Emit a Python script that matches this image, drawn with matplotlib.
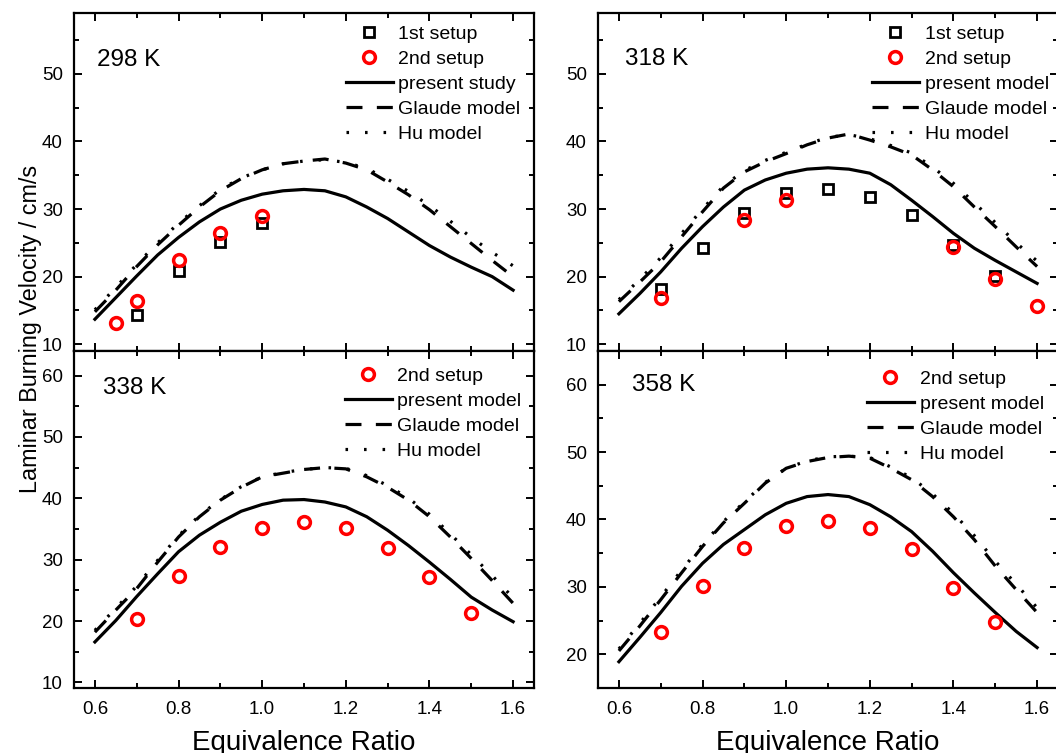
import numpy as np
import matplotlib.pyplot as plt
from matplotlib.ticker import MultipleLocator
from matplotlib.lines import Line2D

plt.rcParams['font.family'] = ['Liberation Sans', 'DejaVu Sans']

# equivalence ratio grid of the model curves
phi_model = np.round(np.arange(0.60, 1.601, 0.05), 2)

# ---- 298 K ----
s1_298_phi = [0.7, 0.8, 0.9, 1.0]
s1_298 = [14.3, 20.9, 25.1, 28.0]
s2_298_phi = [0.65, 0.7, 0.8, 0.9, 1.0]
s2_298 = [13.1, 16.4, 22.4, 26.4, 29.0]
present_298 = [13.7, 16.9, 20.1, 23.2, 25.8, 28.1, 30.0, 31.3, 32.2, 32.7, 32.9,
               32.7, 31.8, 30.3, 28.6, 26.6, 24.6, 22.9, 21.4, 20.0, 18.0]
glaude_298 = [14.8, 18.0, 21.5, 24.7, 27.6, 30.3, 32.7, 34.5, 35.8, 36.7, 37.1,
              37.4, 36.8, 35.8, 34.0, 32.1, 29.9, 27.4, 24.9, 22.4, 20.0]
hu_298 = [15.1, 18.4, 21.8, 25.0, 27.9, 30.5, 32.9, 34.6, 35.8, 36.7, 37.1,
          37.3, 36.9, 36.0, 34.4, 32.6, 30.5, 28.2, 25.8, 23.6, 21.6]

# ---- 318 K ----
s1_318_phi = [0.7, 0.8, 0.9, 1.0, 1.1, 1.2, 1.3, 1.4, 1.5]
s1_318 = [18.1, 24.3, 29.4, 32.3, 32.9, 31.8, 29.1, 24.7, 20.1]
s2_318_phi = [0.7, 0.9, 1.0, 1.4, 1.5, 1.6]
s2_318 = [16.8, 28.4, 31.3, 24.4, 19.6, 15.6]
present_318 = [14.5, 17.5, 20.7, 24.2, 27.4, 30.3, 32.8, 34.3, 35.3, 35.9, 36.1,
               35.9, 35.3, 33.6, 31.3, 28.9, 26.4, 24.2, 22.4, 20.7, 19.0]
glaude_318 = [16.3, 19.2, 22.2, 25.9, 29.6, 33.1, 35.5, 37.0, 38.2, 39.5, 40.5,
              41.1, 40.2, 39.2, 38.0, 35.8, 33.3, 30.3, 27.4, 24.4, 21.5]
hu_318 = [16.6, 19.6, 22.8, 26.4, 30.0, 33.4, 35.7, 37.2, 38.4, 39.6, 40.6,
          41.0, 40.4, 39.4, 38.3, 36.2, 33.8, 30.9, 28.0, 25.0, 22.3]

# ---- 338 K ----
s2_338_phi = [0.7, 0.8, 0.9, 1.0, 1.1, 1.2, 1.3, 1.4, 1.5]
s2_338 = [20.3, 27.3, 32.1, 35.1, 36.1, 35.1, 31.9, 27.2, 21.3]
present_338 = [16.6, 20.1, 24.0, 27.7, 31.3, 34.0, 36.1, 37.9, 39.0, 39.7, 39.8,
               39.4, 38.6, 37.0, 34.8, 32.3, 29.6, 26.8, 23.9, 21.8, 19.9]
glaude_338 = [18.2, 21.8, 25.3, 29.6, 33.7, 37.0, 39.7, 41.8, 43.5, 44.1, 44.7,
              45.0, 44.8, 43.5, 41.8, 39.7, 37.0, 33.7, 30.2, 26.6, 22.9]
hu_338 = [18.5, 22.1, 25.7, 29.9, 33.9, 37.2, 39.8, 41.9, 43.5, 44.2, 44.7,
          45.0, 44.9, 43.7, 42.1, 40.0, 37.4, 34.2, 30.8, 27.4, 23.8]

# ---- 358 K ----
s2_358_phi = [0.7, 0.8, 0.9, 1.0, 1.1, 1.2, 1.3, 1.4, 1.5]
s2_358 = [23.3, 30.2, 35.7, 39.1, 39.8, 38.7, 35.6, 29.8, 24.8]
present_358 = [18.9, 22.5, 26.2, 30.1, 33.5, 36.3, 38.5, 40.7, 42.4, 43.4, 43.7,
               43.4, 42.2, 40.4, 38.2, 35.3, 32.1, 29.1, 26.2, 23.4, 21.0]
glaude_358 = [20.5, 24.2, 28.1, 32.1, 36.0, 39.5, 42.4, 45.4, 47.6, 48.6, 49.2,
              49.4, 49.1, 47.6, 45.9, 43.4, 40.4, 37.0, 33.1, 29.6, 26.2]
hu_358 = [20.8, 24.6, 28.5, 32.5, 36.3, 39.7, 42.6, 45.5, 47.6, 48.7, 49.3,
          49.4, 49.2, 47.8, 46.2, 43.8, 40.9, 37.6, 33.8, 30.4, 26.9]

W, H = 1056, 753
fig = plt.figure(figsize=(W / 100, H / 100), dpi=100)


def px_axes(x0, y0, x1, y1):
    return fig.add_axes([x0 / W, 1 - y1 / H, (x1 - x0) / W, (y1 - y0) / H])


def draw_panel(ax, temp, present, glaude, hu, s2_phi, s2, s1_phi=None, s1=None,
               present_name='present model', ylim=(9, 59), label_pos=(0.05, 0.86),
               leg_pos=(0.59, 0.97), xlabels=False):
    lw = 2.3
    ax.plot(phi_model, present, color='k', lw=lw)
    ax.plot(phi_model, glaude, color='k', lw=lw, dashes=(5, 4.5))
    ax.plot(phi_model, hu, color='k', lw=lw, dashes=(0.8, 5))
    sq_style = dict(ls='none', marker='s', ms=7.5, mfc='none', mec='k', mew=2.0)
    ci_style = dict(ls='none', marker='o', ms=8.5, mfc='none', mec='#ff0000', mew=2.5)
    handles, labels = [], []
    if s1 is not None:
        ax.plot(s1_phi, s1, **sq_style)
        handles.append(Line2D([], [], **sq_style))
        labels.append('1st setup')
    ax.plot(s2_phi, s2, **ci_style)
    handles.append(Line2D([], [], **ci_style))
    labels.append('2nd setup')
    handles += [Line2D([], [], color='k', lw=lw),
                Line2D([], [], color='k', lw=lw, dashes=(5, 4.5)),
                Line2D([], [], color='k', lw=lw, dashes=(0.8, 5))]
    labels += [present_name, 'Glaude model', 'Hu model']
    ax.legend(handles, labels, loc='upper left', bbox_to_anchor=leg_pos,
              frameon=False, fontsize=14, handlelength=2.4, handletextpad=0.3,
              labelspacing=0.38, borderpad=0, borderaxespad=0)

    ax.text(label_pos[0], label_pos[1], temp, transform=ax.transAxes,
            fontsize=17.5, va='center', ha='left')

    ax.set_xlim(0.55, 1.65)
    ax.set_ylim(*ylim)
    ax.xaxis.set_major_locator(MultipleLocator(0.2))
    ax.xaxis.set_minor_locator(MultipleLocator(0.1))
    ax.yaxis.set_major_locator(MultipleLocator(10))
    ax.yaxis.set_minor_locator(MultipleLocator(5))
    ax.tick_params(which='both', direction='in', top=True, right=True,
                   width=1.4, labelsize=13.5, pad=8)
    ax.tick_params(which='major', length=6)
    ax.tick_params(which='minor', length=3.5)
    ax.tick_params(axis='x', labelbottom=xlabels, pad=9)
    ax.xaxis.set_major_formatter(plt.FuncFormatter(lambda v, p: f'{v:.1f}'))
    for sp in ax.spines.values():
        sp.set_linewidth(1.6)


ax_tl = px_axes(74, 13, 534, 351)
ax_tr = px_axes(598, 13, 1058, 351)
ax_bl = px_axes(74, 351, 534, 688)
ax_br = px_axes(598, 351, 1058, 688)

draw_panel(ax_tl, '298 K', present_298, glaude_298, hu_298, s2_298_phi, s2_298,
           s1_298_phi, s1_298, present_name='present study', ylim=(9, 59),
           label_pos=(0.05, 0.861), leg_pos=(0.591, 0.963))
draw_panel(ax_tr, '318 K', present_318, glaude_318, hu_318, s2_318_phi, s2_318,
           s1_318_phi, s1_318, ylim=(9, 59),
           label_pos=(0.059, 0.864), leg_pos=(0.596, 0.963))
draw_panel(ax_bl, '338 K', present_338, glaude_338, hu_338, s2_338_phi, s2_338,
           ylim=(9.1, 64), label_pos=(0.062, 0.89), leg_pos=(0.589, 0.951),
           xlabels=True)
draw_panel(ax_br, '358 K', present_358, glaude_358, hu_358, s2_358_phi, s2_358,
           ylim=(15, 65), label_pos=(0.075, 0.899), leg_pos=(0.585, 0.943),
           xlabels=True)

fig.text(304 / W, 0.004, 'Equivalence Ratio', fontsize=20, ha='center', va='baseline')
fig.text(828 / W, 0.004, 'Equivalence Ratio', fontsize=20, ha='center', va='baseline')
fig.text(31 / W, 1 - 329 / H, 'Laminar Burning Velocity / cm/s', fontsize=16.8,
         rotation=90, ha='center', va='center')

fig.savefig('out.png', dpi=100)
